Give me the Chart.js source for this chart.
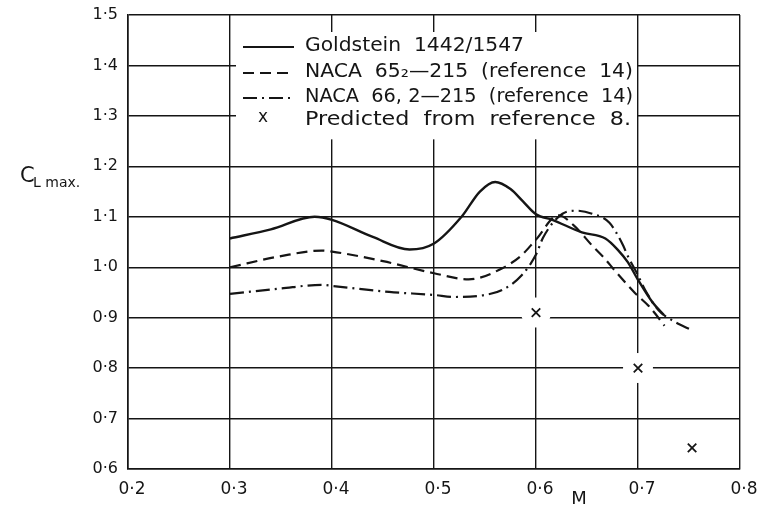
<!DOCTYPE html>
<html>
<head>
<meta charset="utf-8">
<script src="https://cdn.jsdelivr.net/npm/chart.js@4.4.1/dist/chart.umd.min.js"></script>
<style>
  html, body { margin: 0; padding: 0; background: #fff; }
  #wrap { width: 780px; height: 508px; position: relative; }
</style>
</head>
<body>
<div id="wrap"><canvas id="c" width="780" height="508"></canvas></div>
<script>
// ---- Data ----
const xTickLabels = ['0·2', '0·3', '0·4', '0·5', '0·6', '0·7', '0·8'];
const yTickLabels = ['0·6', '0·7', '0·8', '0·9', '1·0', '1·1', '1·2', '1·3', '1·4', '1·5'];

const seriesNames = [
  'Goldstein  1442/1547',
  'NACA  65₂—215  (reference  14)',
  'NACA  66, 2—215  (reference  14)',
  'Predicted  from  reference  8.'
];

const goldsteinM  = [0.300, 0.340, 0.383, 0.400, 0.440, 0.476, 0.500, 0.527, 0.545, 0.560, 0.575, 0.587, 0.600, 0.616, 0.645, 0.668, 0.680, 0.690, 0.700, 0.714, 0.725];
const goldsteinCL = [1.057, 1.075, 1.100, 1.094, 1.060, 1.035, 1.047, 1.100, 1.150, 1.169, 1.155, 1.131, 1.105, 1.094, 1.069, 1.057, 1.035, 1.010, 0.975, 0.931, 0.906];

const naca65M  = [0.300, 0.350, 0.390, 0.400, 0.450, 0.500, 0.534, 0.567, 0.586, 0.600, 0.622, 0.637, 0.655, 0.667, 0.677, 0.697, 0.711, 0.726];
const naca65CL = [1.000, 1.022, 1.033, 1.031, 1.012, 0.988, 0.976, 0.998, 1.024, 1.055, 1.103, 1.083, 1.043, 1.018, 0.994, 0.949, 0.922, 0.884];

const naca66M  = [0.300, 0.350, 0.390, 0.400, 0.456, 0.500, 0.520, 0.550, 0.567, 0.586, 0.600, 0.607, 0.626, 0.640, 0.655, 0.672, 0.684, 0.691, 0.699, 0.707, 0.720, 0.735, 0.753];
const naca66CL = [0.947, 0.958, 0.965, 0.963, 0.951, 0.945, 0.941, 0.945, 0.955, 0.984, 1.025, 1.059, 1.106, 1.112, 1.106, 1.088, 1.049, 1.018, 0.988, 0.955, 0.915, 0.893, 0.875];

const predictedM  = [0.600, 0.700, 0.753];
const predictedCL = [0.910, 0.800, 0.642];

const toPts = (xs, ys) => xs.map((x, i) => ({ x: x, y: ys[i] }));

const INK = '#151515';

const overlay = {
  id: 'overlay',
  beforeDatasetsDraw(chart) {
    const ctx = chart.ctx;
    const xs = chart.scales.x, ys = chart.scales.y;
    // white panel behind the legend (interrupts grid lines as in the drawing)
    const left = xs.getPixelForValue(0.3) + 6;
    const right = xs.getPixelForValue(0.7) - 1;
    const top = ys.getPixelForValue(1.5) + 17;
    const bottom = ys.getPixelForValue(1.2) - 27;
    ctx.save();
    ctx.fillStyle = '#fff';
    ctx.fillRect(left, top, right - left, bottom - top);
    ctx.restore();
  },
  afterDatasetsDraw(chart) {
    const ctx = chart.ctx;
    ctx.save();
    ctx.fillStyle = INK;
    ctx.strokeStyle = INK;
    // legend samples
    const lx0 = 243, lx1 = 294;
    const rows = [46, 72, 97, 120];
    const dashes = [[], [11, 6], [14, 5, 2, 5]];
    for (let i = 0; i < 3; i++) {
      ctx.beginPath();
      ctx.lineWidth = 2.2;
      ctx.setLineDash(dashes[i]);
      ctx.moveTo(lx0, rows[i] + 1);
      ctx.lineTo(lx1, rows[i] + 1);
      ctx.stroke();
    }
    ctx.setLineDash([]);
    ctx.font = '17px "DejaVu Sans"';
    ctx.textAlign = 'center';
    ctx.textBaseline = 'middle';
    ctx.fillText('x', 263, rows[3] - 2);
    // legend text, stretched to the widths in the drawing
    const targets = [219, 328, 328, 326];
    ctx.font = '19px "DejaVu Sans"';
    ctx.textAlign = 'left';
    for (let i = 0; i < 4; i++) {
      const w = ctx.measureText(seriesNames[i]).width;
      const sx = targets[i] / w;
      ctx.save();
      ctx.translate(305, rows[i]);
      ctx.scale(sx, 1);
      ctx.fillText(seriesNames[i], 0, 0);
      ctx.restore();
    }
    // axis titles
    ctx.textBaseline = 'alphabetic';
    ctx.font = '21px "DejaVu Sans"';
    ctx.fillText('C', 20, 182);
    ctx.font = '14px "DejaVu Sans"';
    ctx.fillText('L max.', 33, 187);
    ctx.font = '18px "DejaVu Sans"';
    ctx.textAlign = 'center';
    ctx.fillText('M', 579, 504);
    ctx.restore();
  }
};

const gridStyle = {
  color: INK,
  lineWidth: 1.4,
  drawTicks: false
};

new Chart(document.getElementById('c'), {
  type: 'scatter',
  data: {
    datasets: [
      {
        label: seriesNames[0],
        data: toPts(goldsteinM, goldsteinCL),
        showLine: true,
        borderColor: INK,
        borderWidth: 2.4,
        pointRadius: 0,
        cubicInterpolationMode: 'monotone',
        order: 0
      },
      {
        label: seriesNames[1],
        data: toPts(naca65M, naca65CL),
        showLine: true,
        borderColor: INK,
        borderWidth: 2.2,
        borderDash: [11, 6],
        pointRadius: 0,
        cubicInterpolationMode: 'monotone',
        order: 1
      },
      {
        label: seriesNames[2],
        data: toPts(naca66M, naca66CL),
        showLine: true,
        borderColor: INK,
        borderWidth: 2.2,
        borderDash: [14, 5, 2, 5],
        pointRadius: 0,
        cubicInterpolationMode: 'monotone',
        order: 2
      },
      {
        label: seriesNames[3],
        data: toPts(predictedM, predictedCL),
        showLine: false,
        pointStyle: 'crossRot',
        pointRadius: 6,
        borderColor: INK,
        borderWidth: 1.8,
        order: 3
      },
      {
        label: 'gap',
        data: toPts(predictedM, predictedCL),
        showLine: false,
        pointStyle: 'circle',
        pointRadius: 15,
        backgroundColor: '#fff',
        borderWidth: 0,
        order: 10
      }
    ]
  },
  options: {
    responsive: false,
    animation: false,
    events: [],
    layout: { padding: { top: 12, right: 40, left: 0, bottom: 0 } },
    plugins: {
      legend: { display: false },
      tooltip: { enabled: false }
    },
    scales: {
      x: {
        type: 'linear',
        min: 0.2,
        max: 0.8,
        afterFit(scale) {
          scale.height = 39;
          scale.paddingLeft = 0;
          scale.paddingRight = 0;
        },
        ticks: {
          stepSize: 0.1,
          padding: 10,
          labelOffset: 4,
          color: INK,
          font: { family: 'DejaVu Sans', size: 17 },
          maxRotation: 0,
          callback: (v, i) => xTickLabels[i]
        },
        grid: gridStyle,
        border: { color: INK, width: 1.6 }
      },
      y: {
        type: 'linear',
        min: 0.6,
        max: 1.5,
        afterFit(scale) {
          scale.width = 128;
          scale.paddingTop = 0;
          scale.paddingBottom = 0;
        },
        ticks: {
          stepSize: 0.1,
          padding: 10,
          color: INK,
          font: { family: 'DejaVu Sans', size: 16 },
          callback: (v, i) => yTickLabels[i]
        },
        grid: gridStyle,
        border: { color: INK, width: 1.6 }
      }
    }
  },
  plugins: [overlay]
});
</script>
</body>
</html>
